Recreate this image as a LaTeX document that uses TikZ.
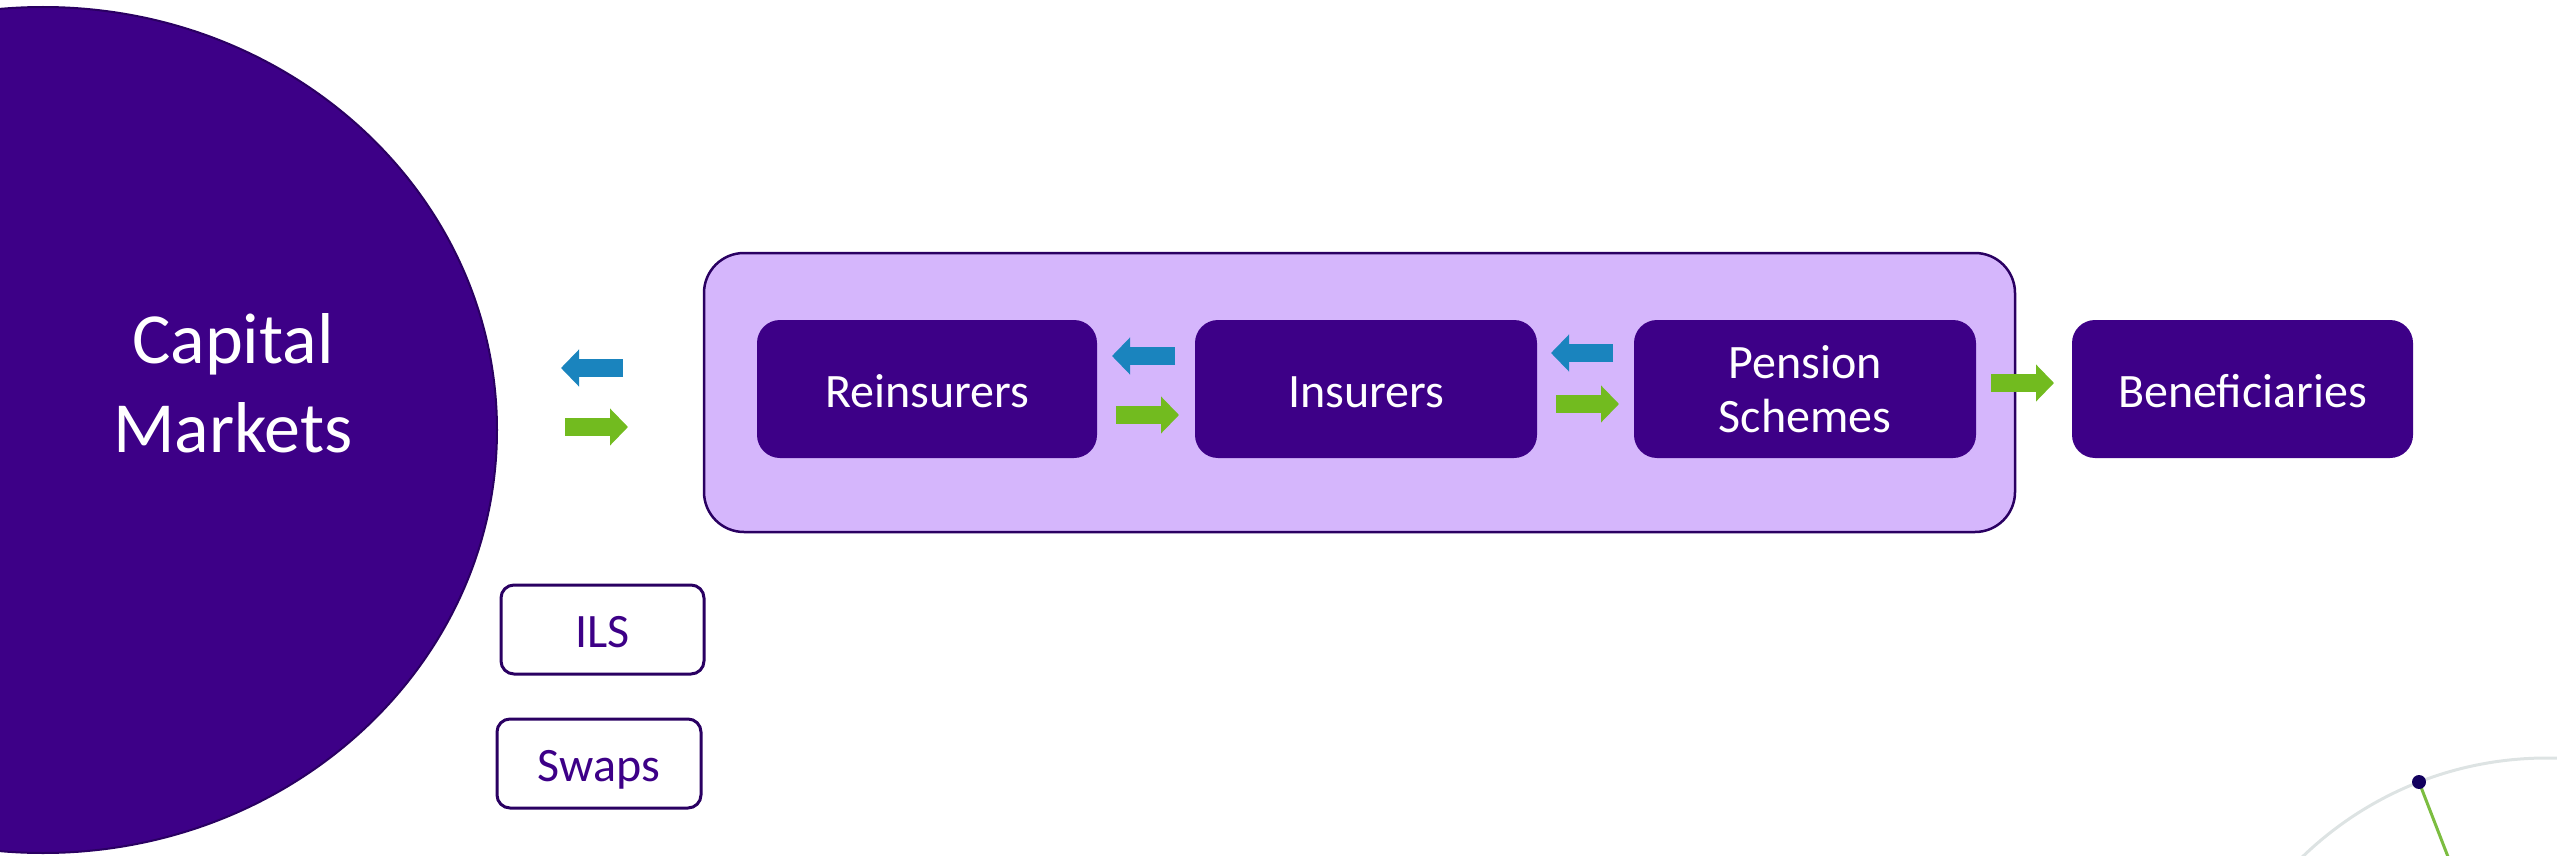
\documentclass[tikz,border=0pt]{standalone}
\usepackage{fontspec}
\setmainfont{Carlito}
\usetikzlibrary{arrows.meta}
\definecolor{dpurple}{HTML}{3D0087}
\definecolor{edgepurple}{HTML}{2A0062}
\definecolor{lavender}{HTML}{D5B6FC}
\definecolor{ablue}{HTML}{1A84BE}
\definecolor{agreen}{HTML}{72BB1F}
\definecolor{arcgray}{HTML}{DDE3E3}
\definecolor{dotnavy}{HTML}{12005E}
\definecolor{lgreen}{HTML}{7CBD40}
\begin{document}
\begin{tikzpicture}[x=1pt,y=-1pt,
  entity/.style={fill=dpurple, draw=none, rounded corners=23pt, minimum height=138pt,
    inner sep=0pt, outer sep=0pt, text=white, align=center,
    font=\fontsize{48}{54}\selectfont},
  oneline/.style={text height=36pt, text depth=0pt},
  tagbox/.style={draw=edgepurple, line width=3pt, fill=white, rounded corners=13pt,
    minimum width=203pt, minimum height=89pt, inner sep=0pt, text=dpurple,
    font=\fontsize{48}{54}\selectfont, text height=36pt, text depth=0pt},
  flowblue/.style={draw=ablue, line width=18pt, -{Triangle[length=18pt,width=36pt]}},
  flowgreen/.style={draw=agreen, line width=18pt, -{Triangle[length=18pt,width=36pt]}},
]
\useasboundingbox (0,0) rectangle (2557,856);
\begin{scope}
\clip (0,0) rectangle (2557,856);

% Capital markets disc
\path[fill=dpurple, draw=edgepurple, line width=2pt] (43,430) ellipse [x radius=454, y radius=423];
\node[text=white, align=center, inner sep=0pt, font=\fontsize{72}{89}\selectfont] (cap) at (233,383) {Capital\\Markets};

% group panel
\node[draw=edgepurple, line width=2.5pt, fill=lavender, rounded corners=40pt,
  minimum width=1311pt, minimum height=279pt, inner sep=0pt] (grp) at (1359.5,392.5) {};

% entities
\node[entity, oneline, minimum width=340pt] (rein) at (927,389) {Reinsurers};
\node[entity, oneline, minimum width=342pt] (ins) at (1366,389) {Insurers};
\node[entity, minimum width=342pt] (pen) at (1805,389) {Pension\\Schemes};
\node[entity, oneline, minimum width=341pt] (ben) at (2242.5,389) {Beneficiaries};

% tags
\node[tagbox] (ils) at (602.5,629.5) {ILS};
\node[tagbox, minimum width=204pt] (swp) at (599,763.5) {Swaps};

% arrow end points
\coordinate (b0s) at (623,368);  \coordinate (b0e) at (561,368);
\coordinate (g0s) at (565,427);  \coordinate (g0e) at (628,427);
\coordinate (b1s) at (1175,356); \coordinate (b1e) at (1112,356);
\coordinate (g1s) at (1116,415); \coordinate (g1e) at (1179,415);
\coordinate (b2s) at (1613,353); \coordinate (b2e) at (1551,353);
\coordinate (g2s) at (1556,404); \coordinate (g2e) at (1619,404);
\coordinate (g3s) at (1991,383); \coordinate (g3e) at (2054,383);

\draw[flowblue] (b0s) -- (b0e);
\draw[flowgreen] (g0s) -- (g0e);
\draw[flowblue] (b1s) -- (b1e);
\draw[flowgreen] (g1s) -- (g1e);
\draw[flowblue] (b2s) -- (b2e);
\draw[flowgreen] (g2s) -- (g2e);
\draw[flowgreen] (g3s) -- (g3e);

% decorative gauge, bottom right
\draw[arcgray, line width=3pt] (2547,1110) circle [radius=352];
\coordinate (hand) at (2457,880);
\draw[lgreen, line width=3pt] (2419,782) -- (hand);
\node[circle, fill=dotnavy, inner sep=0pt, minimum size=14pt] (dot) at (2419,782) {};
\end{scope}
\end{tikzpicture}
\end{document}
